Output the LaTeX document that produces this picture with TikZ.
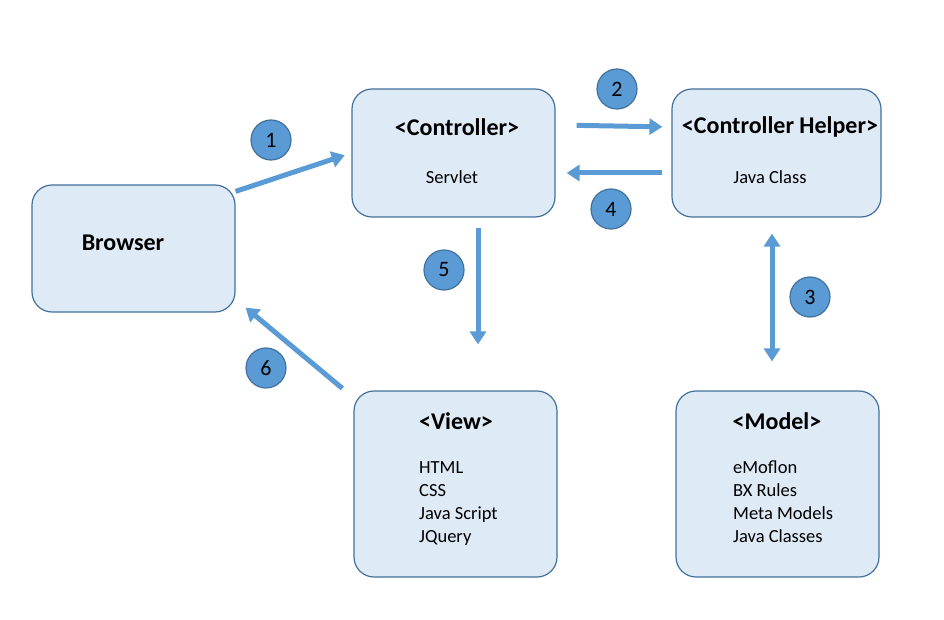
\documentclass[tikz,border=0pt]{standalone}
\usepackage{fontspec}
\setmainfont{Carlito}
\usetikzlibrary{arrows.meta}
\definecolor{boxfill}{HTML}{DEEAF6}
\definecolor{boxline}{HTML}{41719C}
\definecolor{flowblue}{HTML}{5B9BD5}
\tikzset{
  box/.style={draw=boxline, line width=1.2pt, fill=boxfill, rounded corners=20pt},
  title/.style={font=\fontsize{24}{28}\selectfont\bfseries},
  entry/.style={font=\fontsize{18.5}{23}\selectfont},
  badge/.style={circle, draw=boxline, line width=1.2pt, fill=flowblue, minimum size=40pt, inner sep=0pt, font=\fontsize{22}{26}\selectfont},
  flow/.style={draw=flowblue, line width=5pt, -{Triangle[width=16pt,length=13pt]}},
  twoway/.style={draw=flowblue, line width=5pt, {Triangle[width=16pt,length=13pt]}-{Triangle[width=16pt,length=13pt]}}
}
\begin{document}
\begin{tikzpicture}[x=1pt, y=-1pt]
                \useasboundingbox (0,0) rectangle (944,620);
                % boxes
                \node [box, minimum width=203pt, minimum height=127pt] (browser) at (133.5, 248.5) {};
                \node [box, minimum width=203pt, minimum height=128pt] (ctrl) at (453.5, 153) {};
                \node [box, minimum width=209pt, minimum height=128pt] (helper) at (776.5, 153) {};
                \node [box, minimum width=203pt, minimum height=186pt] (view) at (455.5, 484) {};
                \node [box, minimum width=203pt, minimum height=186pt] (model) at (777.5, 484) {};
                % texts
                \node [title] (browserlbl) at (123, 243) {Browser};
                \node [title] (ctrllbl) at (457, 127) {<Controller>};
                \node [entry] (ctrltxt) at (452, 177) {Servlet};
                \node [title] (helperlbl) at (780, 127) {<Controller Helper>};
                \node [entry] (helpertxt) at (770, 177) {Java Class};
                \node [title] (viewlbl) at (456, 421) {<View>};
                \node [entry, align=left, anchor=north west, inner sep=0pt] (viewtxt) at (419, 461) {HTML\\CSS\\Java Script\\JQuery};
                \node [title] (modellbl) at (777, 421) {<Model>};
                \node [entry, align=left, anchor=north west, inner sep=0pt] (modeltxt) at (733, 461) {eMoflon\\BX Rules\\Meta Models\\Java Classes};
                % numbers
                \node [badge] (n1) at (271, 140) {1};
                \node [badge] (n2) at (617, 89) {2};
                \node [badge] (n3) at (810, 297) {3};
                \node [badge] (n4) at (611, 209) {4};
                \node [badge] (n5) at (444, 270) {5};
                \node [badge] (n6) at (266, 368) {6};
                % arrows
                \draw [flow, shorten >=7pt] ([yshift=-7pt]browser.north east) -- (ctrl.west);
                \draw [flow, shorten <=21pt, shorten >=9pt] ([yshift=28pt]ctrl.east) -- ([yshift=26pt]helper.west);
                \draw [flow, shorten <=9pt, shorten >=11pt] ([yshift=-20pt]helper.west) -- ([yshift=-20pt]ctrl.east);
                \draw [flow, shorten <=10pt, shorten >=46pt] ([xshift=24.5pt]ctrl.south) -- ([xshift=22.5pt]view.north);
                \draw [flow] ([xshift=-11pt,yshift=2pt]view.north west) -- ([xshift=10pt,yshift=5pt]browser.south east);
                \draw [twoway, shorten <=16pt, shorten >=29pt] ([xshift=-4.5pt]helper.south) -- ([xshift=-5.5pt]model.north);
            \end{tikzpicture}
\end{document}
